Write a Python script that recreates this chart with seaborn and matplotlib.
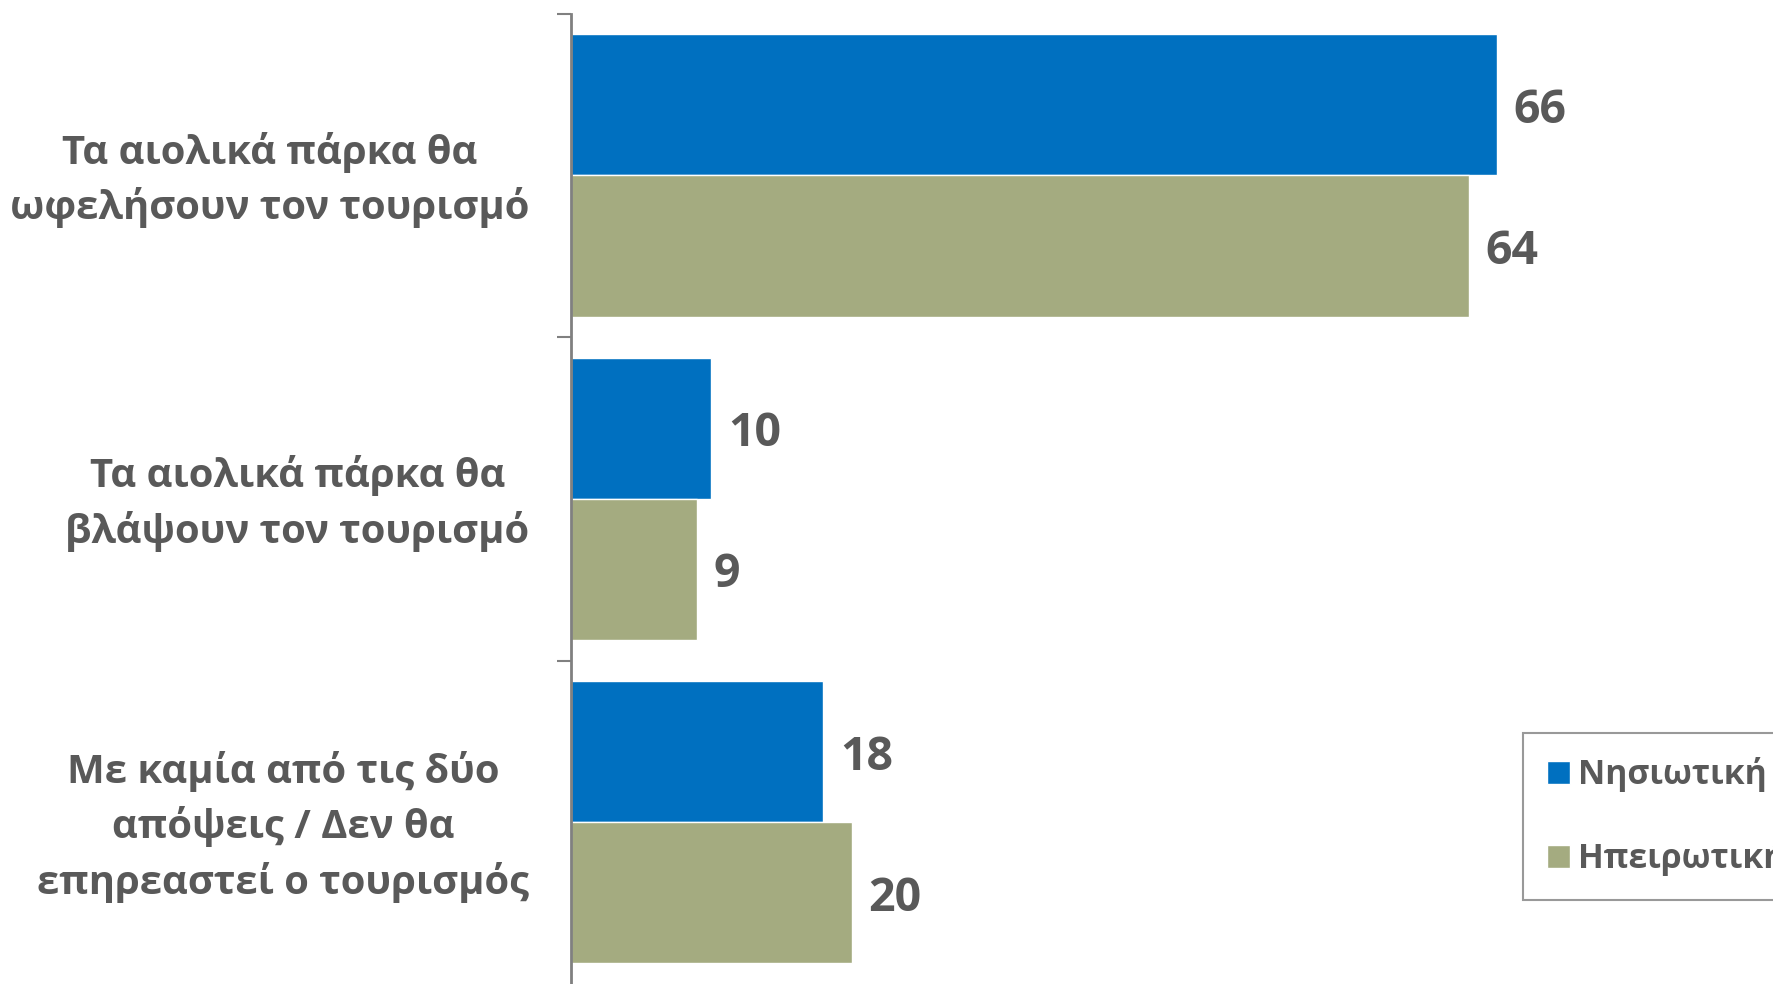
import pandas as pd
import seaborn as sns
import matplotlib.pyplot as plt
import matplotlib.transforms as mtransforms

categories = [
    "Τα αιολικά πάρκα θα\nωφελήσουν τον τουρισμό",
    "Τα αιολικά πάρκα θα\nβλάψουν τον τουρισμό",
    "Με καμία από τις δύο\nαπόψεις / Δεν θα\nεπηρεαστεί ο τουρισμός",
]
series_names = ["Νησιωτική", "Ηπειρωτική"]
island_values = [66, 10, 18]
mainland_values = [64, 9, 20]
colours = ["#0070C0", "#A4AB80"]
text_colour = "#595959"

sns.set_theme(style="white")
plt.rcParams["font.family"] = ["Open Sans", "DejaVu Sans"]
plt.rcParams["font.weight"] = "bold"

df = pd.DataFrame({
    "Category": categories * 2,
    "Region": [series_names[0]] * 3 + [series_names[1]] * 3,
    "Value": island_values + mainland_values,
})

fig = plt.figure(figsize=(17.73, 9.84), dpi=100)
ax = fig.add_axes([571 / 1773, 0.0, 1 - 571 / 1773, (984 - 13.6) / 984])

sns.barplot(data=df, x="Value", y="Category", hue="Region", orient="h",
            palette=colours, width=0.873, ax=ax, legend=True, saturation=1)

for cont in ax.containers:
    lbls = ax.bar_label(cont, padding=12, fontsize=33.5, fontweight="bold", color=text_colour)
    for l in lbls:
        l.set_va("center_baseline")

ax.set_xlim(0, 85.7)
ax.set_ylim(2.5, -0.5)
ax.set_xticks([])
ax.set_xlabel("")
ax.set_ylabel("")

# tick marks sit at the category boundaries, labels at the centres
ax.set_yticks([-0.5, 0.5, 1.5])
ax.set_yticklabels([])
ax.tick_params(axis="y", which="major", left=True, length=10, width=1.5, color="#808080")
ax.set_yticks([0, 1, 2], minor=True)
ax.set_yticklabels(categories, minor=True, fontsize=28.8, fontweight="bold",
                   color=text_colour, multialignment="center", linespacing=1.45)
ax.tick_params(axis="y", which="minor", length=0, pad=30)
shift = mtransforms.ScaledTranslation(0, 7 / 100, fig.dpi_scale_trans)
for lab in ax.get_yticklabels(minor=True):
    lab.set_transform(lab.get_transform() + shift)

sns.despine(ax=ax, top=True, right=True, bottom=True)
ax.spines["left"].set_color("#808080")
ax.spines["left"].set_linewidth(2)

leg = ax.legend(loc="upper left", bbox_to_anchor=(1523 / 1773, 1 - 733 / 984),
                bbox_transform=fig.transFigure, fontsize=24.2, frameon=True,
                fancybox=False, handlelength=0.68, handleheight=0.68,
                labelspacing=1.45, borderpad=0.72, handletextpad=0.25,
                borderaxespad=0)
leg.get_frame().set_edgecolor("#808080")
leg.get_frame().set_linewidth(1.5)
for t in leg.get_texts():
    t.set_color(text_colour)
    t.set_fontweight("bold")

fig.savefig("out.png", dpi=100)
